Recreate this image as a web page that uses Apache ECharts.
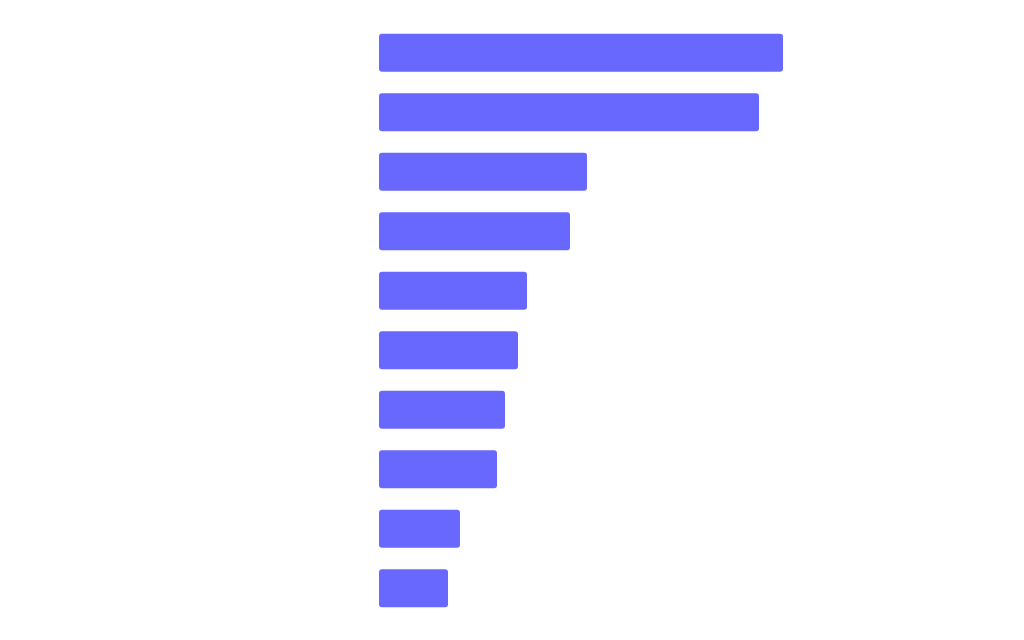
<!DOCTYPE html>
<html>
<head>
<meta charset="utf-8">
<script src="https://cdn.jsdelivr.net/npm/echarts@6/dist/echarts.min.js"></script>
<style>html,body{margin:0;padding:0;background:#fff}#c{width:1024px;height:640px}</style>
</head>
<body>
<div id="c"></div>
<script>
var categories = ['A', 'B', 'C', 'D', 'E', 'F', 'G', 'H', 'I', 'J'];
var values = [404, 380, 208, 191, 148, 139, 126, 118, 81, 69];

var chart = echarts.init(document.getElementById('c'), null, {renderer: 'canvas'});
chart.setOption({
  animation: false,
  backgroundColor: '#ffffff',
  grid: {left: 379, right: 145, top: 23, bottom: 22, containLabel: false},
  xAxis: {type: 'value', min: 0, max: 500, show: false},
  yAxis: {type: 'category', data: categories, inverse: true, show: false},
  series: [{
    type: 'bar',
    data: values,
    barWidth: 38,
    itemStyle: {color: '#6868FF', borderRadius: 3}
  }]
});
</script>
</body>
</html>
